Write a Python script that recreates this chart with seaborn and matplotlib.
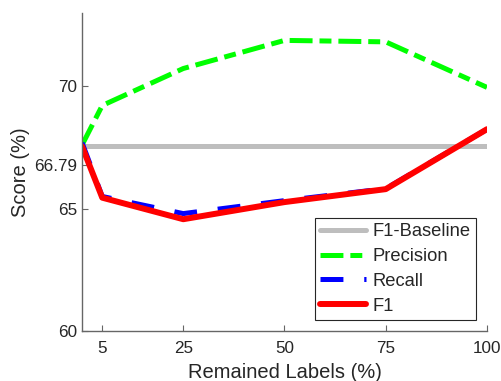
import matplotlib
matplotlib.use("Agg")
import matplotlib.pyplot as plt
import seaborn as sns
import pandas as pd

# Remained labels (%) and scores (%)
remained = [0, 5, 25, 50, 75, 100]
baseline = [67.55, 67.55, 67.55, 67.55, 67.55, 67.55]
precision = [67.6, 69.22, 70.73, 71.88, 71.82, 69.96]
recall = [67.7, 65.5, 64.8, 65.33, 65.82, 68.25]
f1 = [67.55, 65.45, 64.57, 65.27, 65.8, 68.25]

yticks = [60, 65, 66.79, 70]
xticks = [5, 25, 50, 75, 100]

sns.set_style("ticks")
plt.rcParams['font.family'] = ['Liberation Sans', 'DejaVu Sans']
plt.rcParams['lines.scale_dashes'] = False

df = pd.DataFrame({'x': remained, 'F1-Baseline': baseline, 'Precision': precision,
                   'Recall': recall, 'F1': f1})

fig = plt.figure(figsize=(5.01, 3.81), dpi=100)
ax = fig.add_axes([0.1637, 0.1312, 0.972 - 0.1637, 0.9659 - 0.1312])

sns.lineplot(data=df, x='x', y='F1-Baseline', ax=ax, color='#bebebe', linewidth=3.6,
             label='F1-Baseline')
sns.lineplot(data=df, x='x', y='Precision', ax=ax, color='#00ff00', linewidth=3.6,
             linestyle=(0, (16.5, 5, 8.6, 5)), label='Precision')
sns.lineplot(data=df, x='x', y='Recall', ax=ax, color='#0000ff', linewidth=3.6,
             linestyle=(0, (16.5, 15)), label='Recall')
sns.lineplot(data=df, x='x', y='F1', ax=ax, color='#ff0000', linewidth=4.3,
             label='F1')

ax.set_xlim(0, 100)
ax.set_ylim(60, 73)
ax.set_xticks(xticks)
ax.set_xticklabels([str(v) for v in xticks])
ax.set_yticks(yticks)
ax.set_yticklabels(['60', '65', '66.79', '70'])
ax.tick_params(direction='in', length=4, color='#666666', labelsize=12.3,
               labelcolor='#262626')
ax.tick_params(axis='x', pad=7)
for s in ['top', 'right']:
    ax.spines[s].set_visible(False)
for s in ['left', 'bottom']:
    ax.spines[s].set_color('#666666')
    ax.spines[s].set_linewidth(1.0)

ax.set_xlabel('Remained Labels (%)', fontsize=14.5, color='#262626', labelpad=5)
ax.set_ylabel('Score (%)', fontsize=14.5, color='#262626', labelpad=3)

leg = ax.legend(loc='lower right', fontsize=13.2, handlelength=2.5, fancybox=False,
                edgecolor='#262626', framealpha=1, borderaxespad=0.6,
                labelspacing=0.42, handletextpad=0.35, borderpad=0.3)
leg.get_frame().set_linewidth(0.8)

fig.savefig('out.png', dpi=100)
